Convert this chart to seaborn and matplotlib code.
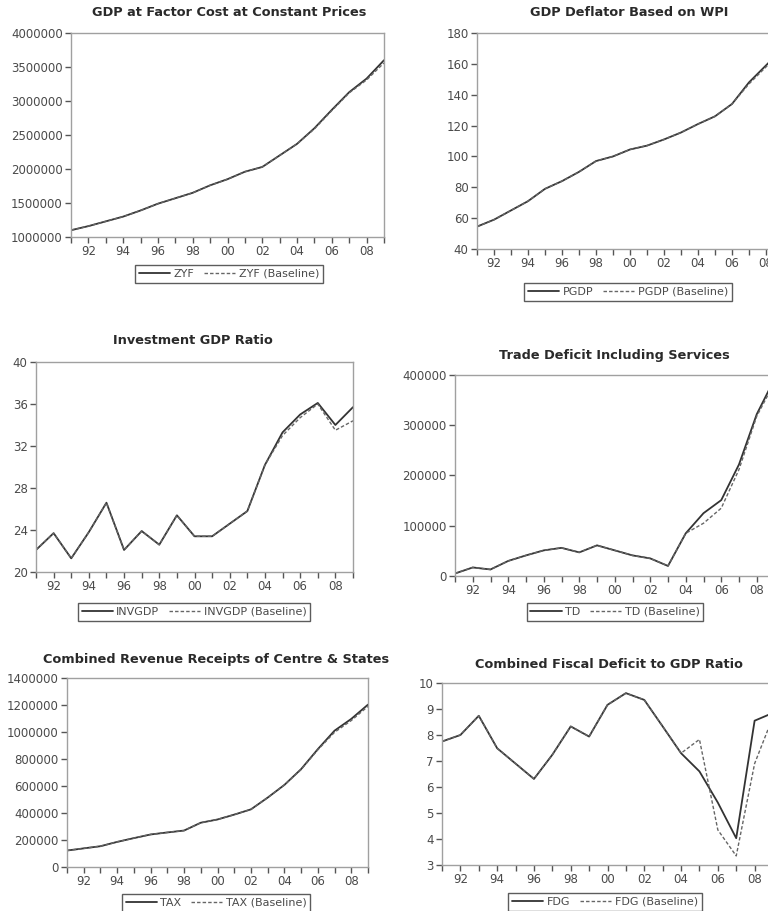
import numpy as np
import pandas as pd
import matplotlib
matplotlib.use("Agg")
import matplotlib.pyplot as plt
import seaborn as sns

years = list(range(1991, 2010))

zyf = [1100000, 1160000, 1230000, 1300000, 1390000, 1490000, 1570000, 1650000, 1760000, 1850000,
       1960000, 2030000, 2200000, 2370000, 2600000, 2870000, 3130000, 3330000, 3600000]
zyf_base = [1100000, 1160000, 1230000, 1300000, 1390000, 1490000, 1570000, 1650000, 1760000, 1850000,
            1960000, 2030000, 2200000, 2370000, 2590000, 2860000, 3120000, 3310000, 3560000]

pgdp = [54.5, 59, 65, 71, 79, 84, 90, 97, 100, 104.5, 107, 111, 115.5, 121, 126, 134, 148, 159, 170]
pgdp_base = [54.5, 59, 65, 71, 79, 84, 90, 97, 100, 104.5, 107, 111, 115.5, 121, 126, 134, 147, 158, 169]

invgdp = [22.1, 23.7, 21.3, 23.8, 26.6, 22.1, 23.9, 22.6, 25.4, 23.4, 23.4, 24.6, 25.8, 30.2,
          33.3, 35.0, 36.1, 34.0, 35.7]
invgdp_base = [22.1, 23.7, 21.3, 23.8, 26.6, 22.1, 23.9, 22.6, 25.4, 23.4, 23.4, 24.6, 25.8, 30.2,
               33.0, 34.7, 36.0, 33.5, 34.4]

td = [5000, 17000, 13000, 30000, 41000, 51000, 56000, 47000, 61000, 51000, 41000, 35000, 20000,
      85000, 125000, 151000, 222000, 322000, 392000]
td_base = [5000, 17000, 13000, 30000, 41000, 51000, 56000, 47000, 61000, 51000, 41000, 35000, 20000,
           85000, 105000, 135000, 212000, 318000, 385000]

tax = [122000, 138000, 154000, 186000, 214000, 241000, 256000, 270000, 328000, 352000, 388000,
       427000, 514000, 608000, 725000, 873000, 1010000, 1097000, 1203000]
tax_base = [122000, 138000, 154000, 186000, 214000, 241000, 256000, 270000, 328000, 352000, 388000,
            427000, 514000, 608000, 722000, 868000, 998000, 1085000, 1190000]

fdg = [7.75, 8.0, 8.74, 7.49, 6.9, 6.31, 7.24, 8.33, 7.94, 9.16, 9.61, 9.35, 8.33, 7.3,
       6.6, 5.4, 4.03, 8.55, 8.85]
fdg_base = [7.75, 8.0, 8.74, 7.49, 6.9, 6.31, 7.24, 8.33, 7.94, 9.16, 9.61, 9.35, 8.33, 7.3,
            7.83, 4.35, 3.35, 6.9, 8.7]

titles = ["GDP at Factor Cost at Constant Prices", "GDP Deflator Based on WPI",
          "Investment GDP Ratio", "Trade Deficit Including Services",
          "Combined Revenue Receipts of Centre & States", "Combined Fiscal Deficit to GDP Ratio"]
names = ["ZYF", "PGDP", "INVGDP", "TD", "TAX", "FDG"]
series = [(zyf, zyf_base), (pgdp, pgdp_base), (invgdp, invgdp_base),
          (td, td_base), (tax, tax_base), (fdg, fdg_base)]
yticks = [list(range(1000000, 4000001, 500000)), list(range(40, 181, 20)),
          list(range(20, 41, 4)), list(range(0, 400001, 100000)),
          list(range(0, 1400001, 200000)), list(range(3, 11))]

sns.set_theme(style="white")
plt.rcParams['font.family'] = ['DejaVu Sans']

W, H = 768, 911
fig = plt.figure(figsize=(W / 100, H / 100), dpi=100)

# layout in pixels: left, top, right, bottom, title (cx, cy), legend (cx, top)
layout = [
    (71, 33, 384, 237, (229, 12), (229, 265)),
    (477, 33, 783, 249, (629, 12), (628, 283)),
    (36, 362, 353, 572, (193, 341), (194, 603)),
    (455, 375, 774.5, 576, (614, 356), (615, 603)),
    (67, 678, 368, 867, (216, 659), (216, 894)),
    (442, 683, 773, 865, (609, 664), (605, 893)),
]

line_c = "#333333"
base_c = "#666666"
spine_c = "#a0a0a0"
text_c = "#4a4a4a"

for i, (l, t, r, b, (tx, ty), (lx, ly)) in enumerate(layout):
    ax = fig.add_axes([l / W, 1 - b / H, (r - l) / W, (b - t) / H])
    act, base = series[i]
    df = pd.DataFrame({"year": years, "actual": act, "baseline": base})
    sns.lineplot(data=df, x="year", y="actual", ax=ax, color=line_c, linewidth=1.3,
                 label=names[i], clip_on=True)
    sns.lineplot(data=df, x="year", y="baseline", ax=ax, color=base_c, linewidth=1.0,
                 linestyle=(0, (2.5, 1.5)), label=names[i] + " (Baseline)", clip_on=True)
    ax.set_xlim(1991, 2009)
    yt = yticks[i]
    ax.set_ylim(yt[0], yt[-1])
    ax.set_yticks(yt)
    ax.set_yticklabels([str(v) for v in yt])
    ax.set_xticks(years)
    ax.set_xticklabels([f"{y % 100:02d}" if y % 2 == 0 else "" for y in years])
    ax.set_xlabel("")
    ax.set_ylabel("")
    for s in ax.spines.values():
        s.set_color(spine_c)
        s.set_linewidth(1.0)
    ax.tick_params(axis="both", direction="out", length=4, width=1.0, color="#555555",
                   labelsize=8.5, labelcolor=text_c, pad=2, left=True, bottom=True)
    ax.grid(False)
    fig.text(tx / W, 1 - ty / H, titles[i], ha="center", va="center",
             fontsize=9.3, fontweight="bold", color="#2a2a2a")
    leg = ax.legend(loc="upper center", bbox_to_anchor=(lx / W, 1 - ly / H),
                    bbox_transform=fig.transFigure, ncol=2, frameon=True, fancybox=False,
                    fontsize=8, handlelength=2.8, columnspacing=0.9, handletextpad=0.3,
                    borderpad=0.35, borderaxespad=0)
    leg.get_frame().set_edgecolor("#333333")
    leg.get_frame().set_linewidth(1.0)
    for txt in leg.get_texts():
        txt.set_color(text_c)

fig.savefig("out.png", dpi=100)
